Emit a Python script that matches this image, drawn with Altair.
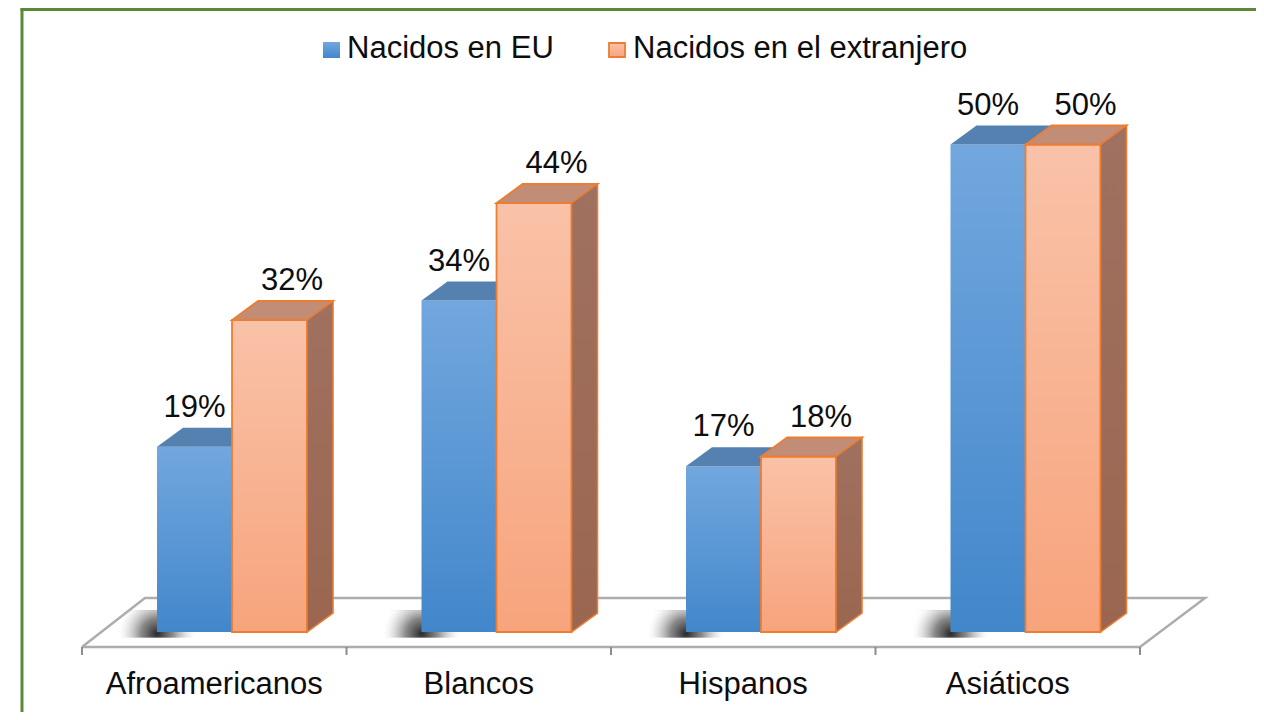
import altair as alt
import pandas as pd

# ---------------- data ----------------
categories = ["Afroamericanos", "Blancos", "Hispanos", "Asiáticos"]
series = ["Nacidos en EU", "Nacidos en el extranjero"]
nacidos_eu = [19, 34, 17, 50]
nacidos_ext = [32, 44, 18, 50]

# ---------------- geometry / style constants (scale units) ----------------
BAR_START = 0.2836   # offset of first bar inside a category slot
BAR_W = 0.2836       # bar width (category units)
DX = 0.0983          # depth shift to the right (category units)
DY = 1.949           # depth shift upward (value units)
FLOOR_FRONT = -1.538
FLOOR_BACK = 3.487
TICK_END = -2.36

XS = alt.Scale(domain=[-0.2798, 4.4386], nice=False, zero=False)
YS = alt.Scale(domain=[-8.205, 64.0], nice=False, zero=False)
FONT = "Liberation Sans"
FS = 31

bars, tops, sides = [], [], []
for s, vals in enumerate([nacidos_eu, nacidos_ext]):
    for i, (c, v) in enumerate(zip(categories, vals)):
        x0 = i + BAR_START + s * BAR_W
        x1 = x0 + BAR_W
        bid = f"{s}-{i}"
        lx = (x0 + x1) / 2 + (0.085 if s == 1 else 0.0)
        bars.append(dict(id=bid, s=s, cat=c, v=v, x0=x0, x1=x1, zero=0.0,
                         lx=lx, lab=f"{v}%", sx0=x0 - 0.15, sx1=x0 + 0.15,
                         sy0=-0.6, sy1=2.2))
        tops.append(dict(id=bid, s=s, y=v, xa=x0, xb=x1))
        tops.append(dict(id=bid, s=s, y=v + DY, xa=x0 + DX, xb=x1 + DX))
        sides.append(dict(id=bid, s=s, x=x1, yt=v, yb=0.0))
        sides.append(dict(id=bid, s=s, x=x1 + DX, yt=v + DY, yb=DY))

bars = pd.DataFrame(bars)
tops = pd.DataFrame(tops)
sides = pd.DataFrame(sides)

floor = pd.DataFrame(dict(
    o=[0, 1, 2, 3, 4],
    x=[0, len(categories), len(categories) + 0.246, 0.238, 0],
    y=[FLOOR_FRONT, FLOOR_FRONT, FLOOR_BACK, FLOOR_BACK, FLOOR_FRONT],
))
ticks = pd.DataFrame(dict(u=list(range(len(categories) + 1)),
                          ya=FLOOR_FRONT, yb=TICK_END))
catlab = pd.DataFrame(dict(u=[i + 0.5 for i in range(len(categories))],
                           cat=categories))


def grad(c1, c2, vertical=True):
    return alt.Gradient(
        gradient="linear",
        stops=[alt.GradientStop(color=c1, offset=0), alt.GradientStop(color=c2, offset=1)],
        x1=0, y1=0, x2=0 if vertical else 1, y2=1 if vertical else 0,
    )


ORANGE_EDGE = "#ED7D31"

# floor
floor_layer = alt.Chart(floor).mark_line(color="#ADADAD", strokeWidth=2.5).encode(
    x=alt.X("x:Q", scale=XS, axis=None),
    y=alt.Y("y:Q", scale=YS, axis=None),
    order="o:Q",
)
tick_layer = alt.Chart(ticks).mark_rule(color="#8C8C8C", strokeWidth=2).encode(
    x=alt.X("u:Q", scale=XS, axis=None),
    y=alt.Y("ya:Q", scale=YS, axis=None),
    y2="yb:Q",
)

# soft shadows left of blue bars (right half hidden behind the bar)
shadow_fill = alt.Gradient(
    gradient="radial",
    x1=0.5, y1=0.62, r1=0, x2=0.5, y2=0.62, r2=0.5,
    stops=[
        alt.GradientStop(color="rgba(30,30,30,0.95)", offset=0),
        alt.GradientStop(color="rgba(60,60,60,0.6)", offset=0.4),
        alt.GradientStop(color="rgba(150,150,150,0.15)", offset=0.8),
        alt.GradientStop(color="rgba(255,255,255,0)", offset=1),
    ],
)
shadow_layer = alt.Chart(bars[bars.s == 0]).mark_rect(fill=shadow_fill).encode(
    x=alt.X("sx0:Q", scale=XS, axis=None),
    x2="sx1:Q",
    y=alt.Y("sy0:Q", scale=YS, axis=None),
    y2="sy1:Q",
)


def series_layers(s):
    b = bars[bars.s == s]
    t = tops[tops.s == s]
    sd = sides[sides.s == s]
    if s == 0:
        front = dict(fill=grad("#72A7DE", "#4287CB"))
        top = dict(fill="#5581B0")
        side = dict(fill="#44739F")
    else:
        front = dict(fill=grad("#F9C2A8", "#F7A47C"), stroke=ORANGE_EDGE, strokeWidth=1.8)
        top = dict(fill="#C18D77", stroke=ORANGE_EDGE, strokeWidth=1.8)
        side = dict(fill=grad("#A07160", "#9A6650"), stroke=ORANGE_EDGE, strokeWidth=1.5)
    f = alt.Chart(b).mark_rect(**front).encode(
        x=alt.X("x0:Q", scale=XS, axis=None), x2="x1:Q",
        y=alt.Y("v:Q", scale=YS, axis=None), y2="zero:Q",
    )
    tp = alt.Chart(t).mark_area(orient="horizontal", **top).encode(
        y=alt.Y("y:Q", scale=YS, axis=None),
        x=alt.X("xa:Q", scale=XS, axis=None), x2="xb:Q",
        detail="id:N",
    )
    sdl = alt.Chart(sd).mark_area(orient="vertical", **side).encode(
        x=alt.X("x:Q", scale=XS, axis=None),
        y=alt.Y("yt:Q", scale=YS, axis=None), y2="yb:Q",
        detail="id:N",
    )
    return [f, tp, sdl]


value_labels = alt.Chart(bars).mark_text(
    font=FONT, fontSize=FS, color="#0d0d0d", baseline="middle", align="center", dy=-39
).encode(
    x=alt.X("lx:Q", scale=XS, axis=None),
    y=alt.Y("v:Q", scale=YS, axis=None),
    text="lab:N",
)

cat_labels = alt.Chart(catlab).mark_text(
    font=FONT, fontSize=FS, color="#0d0d0d", baseline="middle", align="center"
).encode(
    x=alt.X("u:Q", scale=XS, axis=None),
    y=alt.value(677),
    text="cat:N",
)

# legend (drawn)
leg0 = pd.DataFrame(dict(t=[series[0]]))
leg1 = pd.DataFrame(dict(t=[series[1]]))
leg_sq0 = alt.Chart(leg0).mark_rect(fill=grad("#72A7DE", "#4287CB")).encode(
    x=alt.value(315), x2=alt.value(332), y=alt.value(34), y2=alt.value(50))
leg_sq1 = alt.Chart(leg1).mark_rect(fill=grad("#F9C2A8", "#F7A47C"),
                                    stroke=ORANGE_EDGE, strokeWidth=1.8).encode(
    x=alt.value(601), x2=alt.value(617), y=alt.value(35), y2=alt.value(49))
leg_t0 = alt.Chart(leg0).mark_text(font=FONT, fontSize=FS, color="#0d0d0d",
                                   align="left", baseline="middle").encode(
    x=alt.value(339), y=alt.value(41), text="t:N")
leg_t1 = alt.Chart(leg1).mark_text(font=FONT, fontSize=FS, color="#0d0d0d",
                                   align="left", baseline="middle").encode(
    x=alt.value(625), y=alt.value(41), text="t:N")

# border (green frame)
bd = pd.DataFrame(dict(a=[0]))
border_left = alt.Chart(bd).mark_rule(color="#5B8A37", strokeWidth=3).encode(
    x=alt.value(14), y=alt.value(0), y2=alt.value(704))
border_top = alt.Chart(bd).mark_rule(color="#5B8A37", strokeWidth=3).encode(
    x=alt.value(12.5), x2=alt.value(1248), y=alt.value(1.5))

layers = [floor_layer, tick_layer, shadow_layer] + series_layers(0) + series_layers(1) + [
    value_labels, cat_labels, leg_sq0, leg_sq1, leg_t0, leg_t1, border_left, border_top]

chart = alt.layer(*layers).properties(
    width=1248, height=704,
    autosize=alt.AutoSizeParams(type="none"),
    padding=0,
    background="white",
).configure_view(stroke=None)

chart.save("out.html", embed_options={"renderer": "svg", "actions": False})
